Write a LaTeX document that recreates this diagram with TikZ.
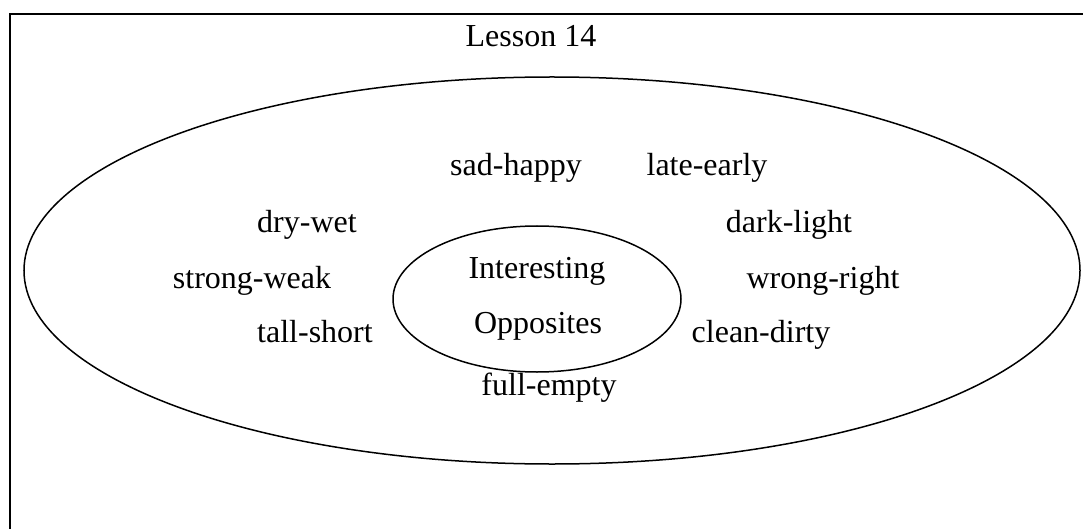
\documentclass[tikz,border=0pt]{standalone}
\usepackage{fontspec}
\setmainfont{Liberation Serif}
\begin{document}
\begin{tikzpicture}[x=1pt,y=-1pt,
  word/.style={font=\fontsize{32}{38}\selectfont, anchor=base, inner sep=0pt},
  oval/.style={draw=black, line width=1.5pt}]
\useasboundingbox (0,0) rectangle (1083,529);
\begin{scope}
\clip (0,0) rectangle (1083,529);
\draw[line width=2pt] (10,540) -- (10,14) -- (1100,14);
\end{scope}
\draw[oval] (552,270.5) ellipse [x radius=528, y radius=193.5];
\draw[oval] (537,299) ellipse [x radius=144, y radius=73];
\node[word] (title) at (531,47) {Lesson 14};
\node[word] (w1) at (516,176) {sad-happy};
\node[word] (w2) at (707,176) {late-early};
\node[word] (w3) at (307,233) {dry-wet};
\node[word] (w4) at (789,233) {dark-light};
\node[word] (w5) at (252,288) {strong-weak};
\node[word] (c1) at (537,278) {Interesting};
\node[word] (w6) at (823,288) {wrong-right};
\node[word] (w7) at (315,342) {tall-short};
\node[word] (c2) at (538,333) {Opposites};
\node[word] (w8) at (761,342) {clean-dirty};
\node[word] (w9) at (549,395) {full-empty};
\end{tikzpicture}
\end{document}
